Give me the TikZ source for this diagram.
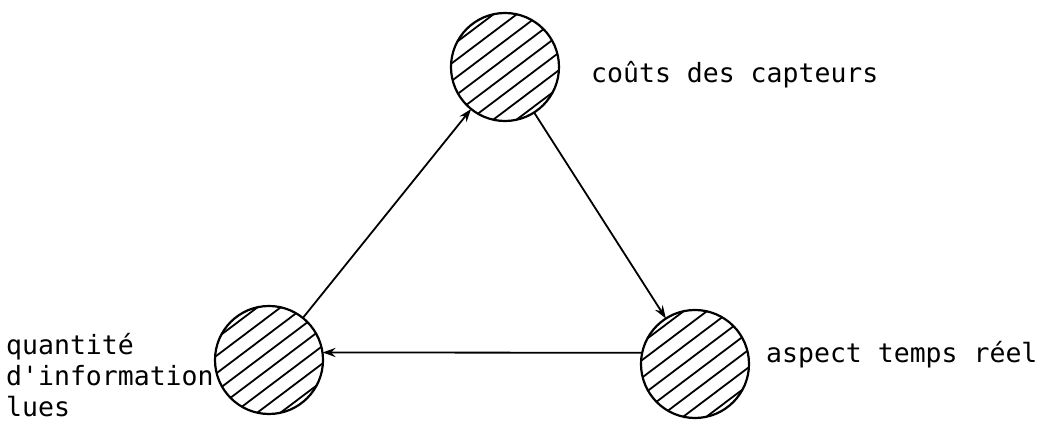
\documentclass[tikz,border=0pt]{standalone}
\usepackage{fontspec}
\newfontfamily\mono{DejaVu Sans Mono}
\usetikzlibrary{arrows.meta}
\tikzset{
  hatched/.style={circle, draw, line width=2.2pt, minimum size=108pt, inner sep=0pt, outer sep=0pt,
    path picture={
      \foreach \d in {-49,-35,...,49}
        \draw[line width=1.8pt] ([shift={(127:\d pt)}]path picture bounding box.center) ++(217:80pt) -- ++(37:160pt);
    }},
  conn/.style={line width=1.8pt, -{Stealth[length=13pt,width=9pt]}},
  lbl/.style={inner sep=0pt, font=\mono\fontsize{26.5pt}{31pt}\selectfont}
}
\begin{document}
\begin{tikzpicture}[x=1pt,y=1pt]
\useasboundingbox (0,0) rectangle (1042,422);
\node[hatched] (top) at (505,355) {};
\node[hatched] (bl) at (269,62) {};
\node[hatched] (br) at (695,58) {};
\draw[conn] (bl) -- (top);
\draw[conn] (top) -- (br);
\draw[conn] (br.168) -- (bl.8);
\node[lbl, anchor=base west] (t1) at (591,339) {coûts des capteurs};
\node[lbl, anchor=base west] (t2) at (766,59) {aspect temps réel};
\node[lbl, anchor=base west, align=left] (t3) at (6,5) {quantité\\d'information\\lues};
\end{tikzpicture}
\end{document}
